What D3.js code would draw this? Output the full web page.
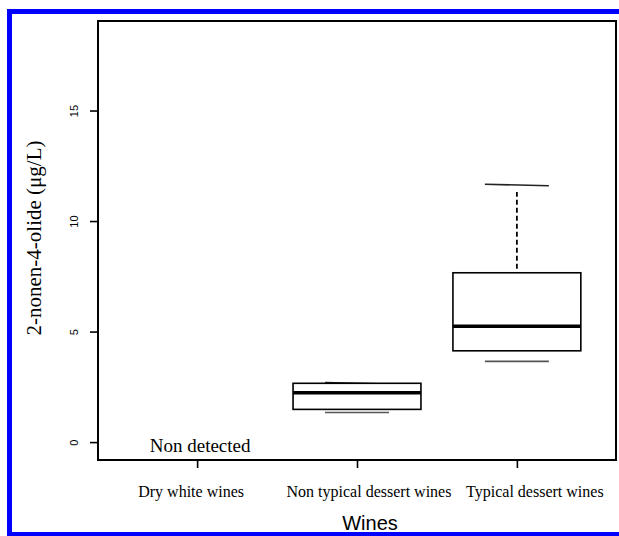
<!DOCTYPE html>
<html>
<head>
<meta charset="utf-8">
<script src="https://cdn.jsdelivr.net/npm/d3@7/dist/d3.min.js"></script>
<style>
  body { margin: 0; background: #fff; }
  svg { display: block; }
</style>
</head>
<body>
<svg id="chart" width="619" height="536"></svg>
<script>
// wine groups and their box stats (µg/L)
var categories = ["Dry white wines", "Non typical dessert wines", "Typical dessert wines"];
var whiskerLow = [null, 1.34, 3.65];
var q1 = [null, 1.48, 4.13];
var median = [null, 2.23, 5.24];
var q3 = [null, 2.66, 7.66];
var whiskerHigh = [null, 2.66, 11.63];
var yTicks = [0, 5, 10, 15];

var svg = d3.select('#chart');

// blue frame around the figure
svg.append('rect')
  .attr('x', 9.5).attr('y', 11.5)
  .attr('width', 700).attr('height', 523)
  .attr('fill', 'none')
  .attr('stroke', '#0000ff')
  .attr('stroke-width', 5);

var plotLeft = 98, plotRight = 616, plotTop = 21, plotBottom = 460;

var x = d3.scaleLinear().domain([0.38, 3.62]).range([plotLeft, plotRight]);
var y = d3.scaleLinear().domain([-0.81, 19.05]).range([plotBottom, plotTop]);
var unit = x(1) - x(0);

// y axis, labels turned like R's default
var yAxis = d3.axisLeft(y).tickValues(yTicks).tickSize(8).tickFormat(d3.format('d'));
var gy = svg.append('g').attr('transform', 'translate(' + plotLeft + ',0)').call(yAxis);
gy.select('.domain').remove();
gy.selectAll('.tick line').attr('stroke-width', 1.6);
gy.selectAll('.tick text')
  .attr('font-family', 'Liberation Sans, Arial, sans-serif')
  .attr('font-size', 11)
  .attr('x', 0).attr('y', 0).attr('dy', '0.35em')
  .attr('text-anchor', 'middle')
  .attr('transform', 'translate(-24,0) rotate(-90)');

// x axis
var xAxis = d3.axisBottom(x).tickValues([1, 2, 3]).tickSize(8).tickFormat('');
var gx = svg.append('g').attr('transform', 'translate(0,' + plotBottom + ')').call(xAxis);
gx.select('.domain').remove();
gx.selectAll('.tick line').attr('stroke-width', 1.6);

var labelShift = [-6, 12, 18];
svg.append('g').selectAll('text')
  .data(categories)
  .enter()
  .append('text')
  .attr('x', function (d, i) { return x(i + 1) + labelShift[i]; })
  .attr('y', 497)
  .attr('text-anchor', 'middle')
  .attr('font-family', 'Liberation Serif, Times New Roman, serif')
  .attr('font-size', 16)
  .text(function (d) { return d; });

// boxes
var idx = d3.range(categories.length).filter(function (i) { return q1[i] !== null; });
var boxes = svg.append('g').selectAll('g').data(idx).enter().append('g');

boxes.filter(function (i) { return whiskerHigh[i] > q3[i]; })
  .append('line')
  .attr('x1', function (i) { return x(i + 1); })
  .attr('x2', function (i) { return x(i + 1); })
  .attr('y1', function (i) { return y(q3[i]) - 4; })
  .attr('y2', function (i) { return y(whiskerHigh[i]) + 7; })
  .attr('stroke', '#000').attr('stroke-width', 1.8)
  .attr('stroke-dasharray', '5,3');

boxes.append('line')
  .attr('x1', function (i) { return x(i + 1) - unit * 0.2; })
  .attr('x2', function (i) { return x(i + 1) + unit * 0.2; })
  .attr('y1', function (i) { return y(whiskerHigh[i]) - 0.8; })
  .attr('y2', function (i) { return y(whiskerHigh[i]) + 0.8; })
  .attr('stroke', '#222').attr('stroke-width', 1.6);

boxes.append('line')
  .attr('x1', function (i) { return x(i + 1) - unit * 0.2; })
  .attr('x2', function (i) { return x(i + 1) + unit * 0.2; })
  .attr('y1', function (i) { return y(whiskerLow[i]); })
  .attr('y2', function (i) { return y(whiskerLow[i]); })
  .attr('stroke', '#555').attr('stroke-width', 1.6);

boxes.append('rect')
  .attr('x', function (i) { return x(i + 1) - unit * 0.4; })
  .attr('width', unit * 0.8)
  .attr('y', function (i) { return y(q3[i]); })
  .attr('height', function (i) { return y(q1[i]) - y(q3[i]); })
  .attr('fill', '#fff')
  .attr('stroke', '#000').attr('stroke-width', 1.6);

boxes.append('line')
  .attr('x1', function (i) { return x(i + 1) - unit * 0.4; })
  .attr('x2', function (i) { return x(i + 1) + unit * 0.4; })
  .attr('y1', function (i) { return y(median[i]); })
  .attr('y2', function (i) { return y(median[i]); })
  .attr('stroke', '#000').attr('stroke-width', 3.5);

// "Non detected" note for the group without data
svg.append('g').selectAll('text')
  .data(d3.range(categories.length).filter(function (i) { return q1[i] === null; }))
  .enter()
  .append('text')
  .attr('x', function (i) { return x(i + 1) + 3; })
  .attr('y', 452)
  .attr('text-anchor', 'middle')
  .attr('font-family', 'Liberation Serif, Times New Roman, serif')
  .attr('font-size', 19)
  .text('Non detected');

// plot frame
svg.append('rect')
  .attr('x', plotLeft).attr('y', plotTop)
  .attr('width', plotRight - plotLeft).attr('height', plotBottom - plotTop)
  .attr('fill', 'none')
  .attr('stroke', '#000').attr('stroke-width', 2);

// axis titles
svg.append('text')
  .attr('transform', 'translate(41,238) rotate(-90)')
  .attr('text-anchor', 'middle')
  .attr('font-family', 'Liberation Serif, Times New Roman, serif')
  .attr('font-size', 21)
  .text('2-nonen-4-olide (μg/L)');

svg.append('text')
  .attr('x', 370).attr('y', 530)
  .attr('text-anchor', 'middle')
  .attr('font-family', 'Liberation Sans, Arial, sans-serif')
  .attr('font-size', 20)
  .text('Wines');
</script>
</body>
</html>
